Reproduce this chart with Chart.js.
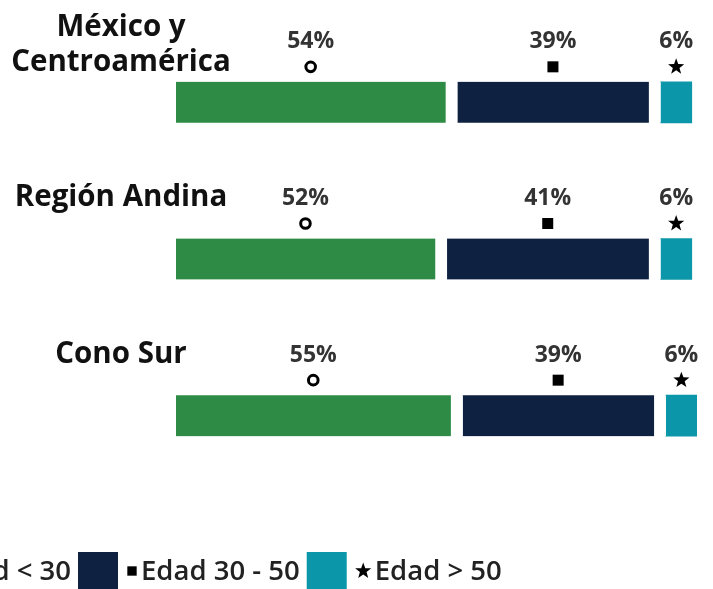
<!DOCTYPE html>
<html lang="es">
<head>
<meta charset="utf-8">
<script src="https://cdn.jsdelivr.net/npm/chart.js@4"></script>
<style>
  html, body { margin: 0; padding: 0; background: #ffffff; overflow: hidden; }
  #box { width: 713px; height: 589px; }
</style>
</head>
<body>
<div id="box"><canvas id="edadChart" width="713" height="589"></canvas></div>
<script>
// ==========================
// Datos
// ==========================
const categorias = [["México y", "Centroamérica"], ["Región Andina"], ["Cono Sur"]];
const edadMenor30 = [54, 52, 55];
const edad30a50 = [39, 41, 39];
const edadMayor50 = [6, 6, 6];
const nombresSeries = ["Edad < 30", "Edad 30 - 50", "Edad > 50"];

const colores = ["#2d8b45", "#0e2141", "#0b97a9"];
const marcas = ["circulo", "cuadrado", "estrella"];
const GAP = 12;
const FUENTE = '"Open Sans", "Noto Sans", sans-serif';

// ==========================
// Dibujo de marcas
// ==========================
function dibujarMarca(ctx, tipo, x, y, escala) {
  const s = escala || 1;
  ctx.save();
  ctx.fillStyle = "#000";
  ctx.strokeStyle = "#000";
  if (tipo === "circulo") {
    ctx.lineWidth = 3 * s;
    ctx.beginPath();
    ctx.arc(x, y, 4.8 * s, 0, Math.PI * 2);
    ctx.stroke();
  } else if (tipo === "cuadrado") {
    ctx.fillRect(x - 5.5 * s, y - 5.5 * s, 11 * s, 11 * s);
  } else {
    const R = 8.5 * s, r = 3.5 * s;
    ctx.beginPath();
    for (let k = 0; k < 10; k++) {
      const a = -Math.PI / 2 + k * Math.PI / 5;
      const rad = k % 2 === 0 ? R : r;
      ctx.lineTo(x + rad * Math.cos(a), y + rad * Math.sin(a));
    }
    ctx.closePath();
    ctx.fill();
  }
  ctx.restore();
}

// ==========================
// Etiquetas, marcas y categorías
// ==========================
const etiquetasPlugin = {
  id: "etiquetas",
  afterDatasetsDraw(chart) {
    const ctx = chart.ctx;
    ctx.save();
    ctx.textAlign = "center";
    ctx.textBaseline = "middle";

    chart.data.datasets.forEach((ds, d) => {
      const meta = chart.getDatasetMeta(d);
      meta.data.forEach((bar, i) => {
        const p = bar.getProps(["x", "y", "base", "height"], true);
        const gap = d < 2 ? GAP : 0;
        const izq = Math.min(p.base, p.x);
        const der = Math.max(p.base, p.x) - gap;
        const cx = (izq + der) / 2;
        const top = p.y - p.height / 2;

        ctx.fillStyle = "#333333";
        ctx.font = "bold 23px " + FUENTE;
        ctx.fillText(ds.data[i] + "%", cx, top - 40);
        dibujarMarca(ctx, marcas[d], cx, top - 15);
      });
    });

    // nombres de categoría
    const meta0 = chart.getDatasetMeta(0);
    ctx.fillStyle = "#111111";
    ctx.font = "bold 29.5px " + FUENTE;
    meta0.data.forEach((bar, i) => {
      const p = bar.getProps(["y", "height"], true);
      const top = p.y - p.height / 2;
      const lineas = categorias[i];
      const centro = lineas.length > 1 ? top - 36.5 : top - 40.5;
      const y0 = centro - (lineas.length - 1) * 35 / 2;
      lineas.forEach((t, k) => ctx.fillText(t, 121, y0 + k * 35));
    });
    ctx.restore();
  }
};

// ==========================
// Leyenda
// ==========================
const leyendaPlugin = {
  id: "leyendaEdad",
  afterDraw(chart) {
    const ctx = chart.ctx;
    ctx.save();
    ctx.font = "600 27.5px " + FUENTE;
    ctx.textBaseline = "middle";
    ctx.textAlign = "left";
    const anchoMarca = [10, 10, 15];
    const anchos = nombresSeries.map((n, k) => 40 + 9 + anchoMarca[k] + 4 + ctx.measureText(n).width);
    let x = 78 - (anchos[0] + 7);
    const yc = 572;
    nombresSeries.forEach((n, k) => {
      ctx.fillStyle = colores[k];
      ctx.fillRect(x, 552, 40, 40);
      dibujarMarca(ctx, marcas[k], x + 49 + anchoMarca[k] / 2, yc - 1, k === 2 ? 1 : 0.85);
      ctx.fillStyle = "#222222";
      ctx.fillText(n, x + 49 + anchoMarca[k] + 4, yc);
      x += anchos[k] + 7;
    });
    ctx.restore();
  }
};

// ==========================
// Gráfico
// ==========================
const series = [edadMenor30, edad30a50, edadMayor50];

new Chart(document.getElementById("edadChart"), {
  type: "bar",
  data: {
    labels: categorias,
    datasets: series.map((valores, k) => ({
      label: nombresSeries[k],
      data: valores,
      backgroundColor: colores[k],
      borderColor: "#ffffff",
      borderWidth: k < 2 ? { top: 0, bottom: 0, left: 0, right: GAP } : 0,
      borderSkipped: false,
      barThickness: 41
    }))
  },
  options: {
    indexAxis: "y",
    responsive: false,
    animation: false,
    layout: { padding: { left: 176, right: 16, top: 24, bottom: 95 } },
    plugins: { legend: { display: false }, tooltip: { enabled: false } },
    scales: {
      x: { stacked: true, min: 0, max: 100, display: false },
      y: { stacked: true, display: false }
    }
  },
  plugins: [etiquetasPlugin, leyendaPlugin]
});
</script>
</body>
</html>
